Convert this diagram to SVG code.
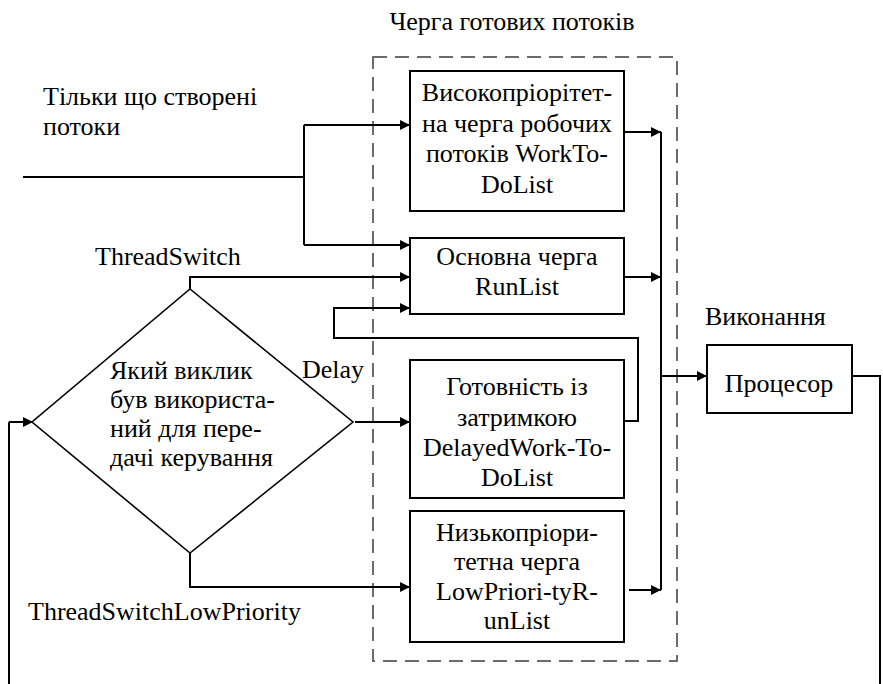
<svg xmlns="http://www.w3.org/2000/svg" width="883" height="684" viewBox="0 0 883 684">
  <style>
    .t { font-family: "Liberation Serif", "Times New Roman", serif; font-size: 26px; fill: #000; }
    .c { text-anchor: middle; }
    .box { fill: #fff; stroke: #000; stroke-width: 2; }
    .ln { fill: none; stroke: #000; stroke-width: 2; }
    .arr { fill: none; stroke: #000; stroke-width: 2; marker-end: url(#ah); }
    .grp { fill: none; stroke: #6b6b6b; stroke-width: 2; stroke-dasharray: 14 8; }
  </style>
  <defs>
    <marker id="ah" markerUnits="userSpaceOnUse" markerWidth="11" markerHeight="10" refX="10" refY="5" orient="auto">
      <path d="M0,0 L10,5 L0,10 z" fill="#000"/>
    </marker>
  </defs>

  <rect width="883" height="684" fill="#fff"/>

  <!-- ready-queue group (dashed frame) -->
  <g id="ready-queue">
    <rect class="grp" x="373" y="57" width="304" height="604"/>
    <text class="t c" x="512" y="30">Черга готових потоків</text>
  </g>

  <!-- free-standing labels -->
  <g id="labels">
    <text class="t" x="43" y="105">Тільки що створені</text>
    <text class="t" x="43" y="135">потоки</text>
    <text class="t" x="95" y="265">ThreadSwitch</text>
    <text class="t" x="302" y="378">Delay</text>
    <text class="t" x="28" y="620">ThreadSwitchLowPriority</text>
    <text class="t" x="705" y="325">Виконання</text>
  </g>

  <!-- connectors -->
  <g id="connectors">
    <!-- new threads split into two queues -->
    <polyline class="ln" points="23,177 304,177"/>
    <polyline class="ln" points="304,125 304,245"/>
    <polyline class="arr" points="304,125 410,125"/>
    <polyline class="arr" points="304,245 410,245"/>
    <!-- ThreadSwitch branch -->
    <polyline class="arr" points="190,289 190,277 410,277"/>
    <!-- delayed queue feeds back into RunList -->
    <polyline class="arr" points="624,421 638,421 638,338 334,338 334,308 410,308"/>
    <!-- Delay branch -->
    <polyline class="arr" points="355,422 410,422"/>
    <!-- ThreadSwitchLowPriority branch -->
    <polyline class="arr" points="190,553 190,587 410,587"/>
    <!-- queue outputs to the collector bus -->
    <polyline class="ln" points="661,132 661,590"/>
    <polyline class="arr" points="624,132 661,132"/>
    <polyline class="arr" points="624,277 661,277"/>
    <polyline class="arr" points="629,590 661,590"/>
    <!-- bus to processor -->
    <polyline class="arr" points="661,376 707,376"/>
    <!-- processor return loop -->
    <polyline class="ln" points="852,376 880,376 880,684"/>
    <polyline class="ln" points="9,684 9,422"/>
    <polyline class="arr" points="9,422 33,422"/>
  </g>

  <!-- nodes -->
  <g id="work-to-do-list">
    <rect class="box" x="410" y="71" width="214" height="140"/>
    <text class="t c" x="517" y="101">Високопріорітет-</text>
    <text class="t c" x="517" y="132">на черга робочих</text>
    <text class="t c" x="517" y="162">потоків WorkTo-</text>
    <text class="t c" x="517" y="193">DoList</text>
  </g>

  <g id="run-list">
    <rect class="box" x="410" y="238" width="214" height="76"/>
    <text class="t c" x="517" y="265">Основна черга</text>
    <text class="t c" x="517" y="295">RunList</text>
  </g>

  <g id="delayed-work-to-do-list">
    <rect class="box" x="410" y="360" width="214" height="138"/>
    <text class="t c" x="517" y="395">Готовність із</text>
    <text class="t c" x="517" y="426">затримкою</text>
    <text class="t c" x="517" y="456">DelayedWork-To-</text>
    <text class="t c" x="517" y="486">DoList</text>
  </g>

  <g id="low-priority-run-list">
    <rect class="box" x="410" y="511" width="214" height="131"/>
    <text class="t c" x="517" y="541">Низькопріори-</text>
    <text class="t c" x="517" y="570">тетна черга</text>
    <text class="t c" x="517" y="600">LowPriori-tyR-</text>
    <text class="t c" x="517" y="629">unList</text>
  </g>

  <g id="decision">
    <polygon points="190,289 353,422 190,553 32,422" fill="none" stroke="#000" stroke-width="1.6"/>
    <text class="t" x="110" y="379">Який виклик</text>
    <text class="t" x="110" y="408">був використа-</text>
    <text class="t" x="110" y="437">ний для пере-</text>
    <text class="t" x="110" y="466">дачі керування</text>
  </g>

  <g id="processor">
    <rect class="box" x="707" y="345" width="145" height="68"/>
    <text class="t c" x="779" y="392">Процесор</text>
  </g>
</svg>
